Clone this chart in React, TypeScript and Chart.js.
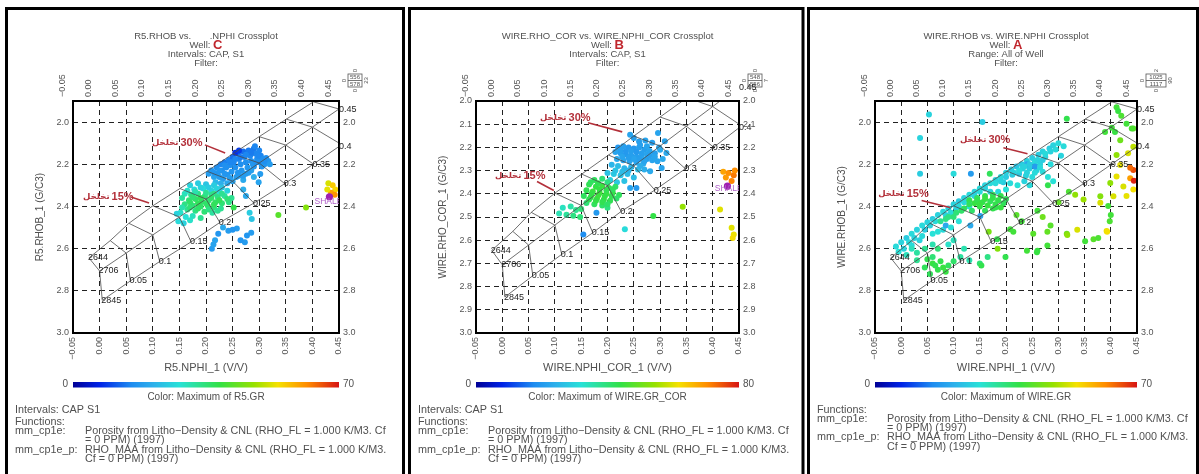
import React, { useEffect, useRef } from 'react';
import { Chart, registerables } from 'chart.js';

Chart.register(...registerables);
Chart.defaults.font.family = "'Liberation Sans', Arial, sans-serif";

type Pt = [number, number, number];

// axis ticks
const nphiTicks = [-0.05, 0, 0.05, 0.1, 0.15, 0.2, 0.25, 0.3, 0.35, 0.4, 0.45];
const nphiLabels = ['\u22120.05', '0.00', '0.05', '0.10', '0.15', '0.20', '0.25', '0.30', '0.35', '0.40', '0.45'];
const rhobTicksCoarse = [2.0, 2.2, 2.4, 2.6, 2.8, 3.0];
const rhobLabelsCoarse = ['2.0', '2.2', '2.4', '2.6', '2.8', '3.0'];
const rhobTicksFine = [2.0, 2.1, 2.2, 2.3, 2.4, 2.5, 2.6, 2.7, 2.8, 2.9, 3.0];
const rhobLabelsFine = ['2.0', '2.1', '2.2', '2.3', '2.4', '2.5', '2.6', '2.7', '2.8', '2.9', '3.0'];

// CP-1e chart overlay, one node per porosity step (0 .. 0.45)
const ssNphi = [-0.02, 0.02, 0.055, 0.1, 0.151, 0.202, 0.25, 0.3, 0.351, 0.402];
const ssRhob = [2.644, 2.562, 2.48, 2.397, 2.315, 2.233, 2.151, 2.069, 1.986, 1.904];
const lsNphi = [0, 0.05, 0.1, 0.15, 0.2, 0.25, 0.3, 0.35, 0.4, 0.45];
const lsRhob = [2.706, 2.621, 2.535, 2.45, 2.365, 2.28, 2.194, 2.109, 2.024, 1.938];
const dolNphi = [0.005, 0.058, 0.113, 0.172, 0.226, 0.29, 0.348, 0.402, 0.455, 0.51];
const dolRhob = [2.845, 2.753, 2.661, 2.568, 2.476, 2.384, 2.292, 2.199, 2.107, 2.015];

const porLabels = ['0.05', '0.1', '0.15', '0.2', '0.25', '0.3', '0.35', '0.4', '0.45'];
const porLabelNphi = [0.058, 0.113, 0.172, 0.226, 0.29, 0.348, 0.402, 0.452, 0.452];
const porLabelRhob = [2.753, 2.661, 2.568, 2.476, 2.384, 2.292, 2.199, 2.115, 1.94];
const matrixLabels = ['2644', '2706', '2845'];
const matrixNphi = [-0.02, 0, 0.005];
const matrixRhob = [2.644, 2.706, 2.845];

// well C  [nphi, rhob, GR]
const wellC: Pt[] = [
  [0.205, 2.245, 18], [0.21, 2.23, 17], [0.215, 2.26, 19], [0.22, 2.215, 16], [0.222, 2.245, 17], [0.228, 2.2, 15],
  [0.23, 2.23, 16], [0.232, 2.27, 18], [0.235, 2.19, 14], [0.238, 2.215, 16], [0.24, 2.25, 17], [0.243, 2.18, 15],
  [0.245, 2.205, 16], [0.248, 2.235, 17], [0.25, 2.165, 13], [0.252, 2.19, 15], [0.255, 2.215, 16], [0.257, 2.26, 18],
  [0.26, 2.15, 12], [0.262, 2.175, 15], [0.265, 2.2, 16], [0.267, 2.23, 17], [0.27, 2.14, 13], [0.272, 2.165, 15],
  [0.275, 2.19, 16], [0.278, 2.215, 17], [0.28, 2.135, 14], [0.283, 2.16, 15], [0.285, 2.185, 16], [0.288, 2.2, 17],
  [0.29, 2.125, 14], [0.293, 2.15, 15], [0.296, 2.175, 16], [0.3, 2.19, 16], [0.303, 2.16, 15], [0.307, 2.175, 16],
  [0.31, 2.2, 17], [0.313, 2.17, 16], [0.317, 2.185, 17], [0.292, 2.115, 15], [0.3, 2.135, 15], [0.24, 2.29, 20],
  [0.25, 2.28, 19], [0.262, 2.255, 18], [0.275, 2.245, 18], [0.285, 2.23, 19], [0.255, 2.145, 8], [0.262, 2.135, 9],
  [0.228, 2.29, 21], [0.218, 2.285, 22], [0.27, 2.275, 20], [0.299, 2.285, 19], [0.302, 2.246, 18], [0.29, 2.26, 21],
  [0.215, 2.24, 17], [0.225, 2.26, 18], [0.235, 2.245, 17], [0.245, 2.265, 18], [0.26, 2.24, 17], [0.27, 2.255, 18],
  [0.28, 2.24, 18], [0.29, 2.21, 17], [0.295, 2.19, 16], [0.305, 2.21, 17], [0.31, 2.185, 16], [0.285, 2.145, 14],
  [0.275, 2.155, 15], [0.265, 2.165, 14], [0.255, 2.175, 15], [0.245, 2.19, 15], [0.235, 2.205, 16], [0.225, 2.23, 17],
  [0.32, 2.2, 18], [0.298, 2.16, 15],
  [0.17, 2.3, 26], [0.185, 2.29, 25], [0.2, 2.295, 24], [0.215, 2.3, 25], [0.23, 2.31, 24], [0.178, 2.32, 27],
  [0.195, 2.315, 27], [0.21, 2.325, 26], [0.225, 2.33, 27], [0.24, 2.325, 26], [0.16, 2.34, 30], [0.172, 2.345, 33],
  [0.185, 2.34, 34], [0.198, 2.35, 35], [0.21, 2.345, 33], [0.222, 2.355, 34], [0.235, 2.35, 32], [0.248, 2.36, 33],
  [0.155, 2.36, 32], [0.168, 2.37, 35], [0.18, 2.365, 36], [0.192, 2.375, 36], [0.205, 2.37, 35], [0.218, 2.38, 36],
  [0.23, 2.385, 35], [0.243, 2.38, 34], [0.16, 2.39, 34], [0.175, 2.395, 35], [0.19, 2.4, 36], [0.203, 2.395, 36],
  [0.215, 2.405, 35], [0.228, 2.41, 33], [0.165, 2.415, 33], [0.18, 2.42, 34], [0.197, 2.425, 35], [0.212, 2.43, 32],
  [0.152, 2.43, 29], [0.162, 2.45, 28], [0.175, 2.445, 30], [0.19, 2.455, 33], [0.148, 2.47, 27], [0.158, 2.48, 26],
  [0.17, 2.465, 29], [0.252, 2.405, 38], [0.145, 2.435, 26],
  [0.19, 2.31, 26], [0.205, 2.31, 25], [0.22, 2.315, 26], [0.165, 2.325, 29], [0.18, 2.33, 31], [0.2, 2.335, 33],
  [0.215, 2.34, 34], [0.23, 2.34, 33], [0.175, 2.355, 35], [0.19, 2.36, 37], [0.21, 2.36, 36], [0.225, 2.37, 37],
  [0.24, 2.365, 35], [0.17, 2.38, 36], [0.185, 2.385, 37], [0.2, 2.385, 36], [0.215, 2.39, 37], [0.17, 2.405, 35],
  [0.185, 2.41, 36], [0.205, 2.415, 34], [0.222, 2.42, 33], [0.155, 2.405, 31],
  [0.242, 2.515, 18], [0.232, 2.5, 20], [0.258, 2.505, 18], [0.277, 2.538, 17], [0.285, 2.525, 18], [0.217, 2.56, 19],
  [0.211, 2.6, 18], [0.214, 2.58, 19], [0.223, 2.53, 17], [0.25, 2.51, 17], [0.273, 2.57, 18], [0.265, 2.56, 17],
  [0.282, 2.43, 25], [0.286, 2.46, 24], [0.275, 2.35, 20], [0.27, 2.32, 21],
  [0.336, 2.44, 42], [0.388, 2.405, 46],
  [0.43, 2.29, 52], [0.438, 2.3, 56], [0.443, 2.32, 55], [0.435, 2.335, 60], [0.442, 2.345, 61], [0.428, 2.32, 53],
];

// well B
const wellB: Pt[] = [
  [0.243, 2.146, 22], [0.296, 2.138, 22], [0.309, 2.174, 22], [0.312, 2.224, 23], [0.303, 2.289, 22], [0.281, 2.303, 23],
  [0.25, 2.16, 21], [0.26, 2.175, 21], [0.272, 2.17, 22], [0.285, 2.18, 21], [0.298, 2.2, 22], [0.22, 2.2, 20],
  [0.23, 2.195, 21], [0.24, 2.2, 20], [0.25, 2.205, 20], [0.26, 2.2, 21], [0.27, 2.21, 21], [0.28, 2.215, 22],
  [0.29, 2.225, 21], [0.215, 2.22, 22], [0.225, 2.225, 21], [0.235, 2.23, 20], [0.245, 2.235, 21], [0.255, 2.24, 21],
  [0.265, 2.24, 22], [0.275, 2.25, 21], [0.285, 2.255, 22], [0.218, 2.25, 23], [0.23, 2.255, 22], [0.242, 2.26, 22],
  [0.255, 2.265, 22], [0.268, 2.27, 23], [0.295, 2.26, 22], [0.305, 2.25, 23], [0.208, 2.275, 25], [0.22, 2.28, 26],
  [0.232, 2.29, 25], [0.245, 2.285, 25], [0.258, 2.295, 26], [0.27, 2.295, 24], [0.2, 2.31, 27], [0.212, 2.315, 28],
  [0.225, 2.32, 27], [0.238, 2.315, 26], [0.25, 2.33, 26], [0.205, 2.34, 29], [0.218, 2.35, 28], [0.232, 2.345, 27],
  [0.255, 2.375, 20], [0.243, 2.375, 22],
  [0.225, 2.21, 21], [0.235, 2.215, 20], [0.245, 2.215, 21], [0.255, 2.22, 20], [0.265, 2.225, 21], [0.275, 2.23, 22],
  [0.26, 2.25, 21], [0.27, 2.26, 22], [0.28, 2.235, 21], [0.25, 2.25, 22], [0.24, 2.245, 21], [0.228, 2.24, 22],
  [0.29, 2.24, 22], [0.3, 2.21, 23], [0.262, 2.19, 21], [0.275, 2.195, 22], [0.262, 2.28, 24], [0.215, 2.3, 27],
  [0.228, 2.305, 26], [0.24, 2.3, 25],
  [0.175, 2.34, 42], [0.19, 2.335, 40], [0.2, 2.35, 39], [0.165, 2.36, 43], [0.178, 2.37, 44], [0.19, 2.365, 45],
  [0.203, 2.375, 43], [0.215, 2.37, 41], [0.16, 2.385, 43], [0.172, 2.39, 45], [0.185, 2.395, 46], [0.198, 2.4, 45],
  [0.21, 2.395, 44], [0.222, 2.405, 42], [0.155, 2.41, 42], [0.168, 2.415, 44], [0.18, 2.42, 45], [0.193, 2.425, 44],
  [0.205, 2.43, 43], [0.217, 2.42, 41], [0.16, 2.44, 40], [0.175, 2.445, 42], [0.19, 2.45, 41], [0.13, 2.455, 36],
  [0.14, 2.47, 38], [0.15, 2.465, 40], [0.115, 2.46, 34], [0.122, 2.49, 37], [0.135, 2.495, 39], [0.148, 2.5, 40],
  [0.108, 2.485, 35], [0.2, 2.46, 39],
  [0.17, 2.4, 44], [0.183, 2.405, 45], [0.195, 2.41, 44], [0.208, 2.41, 43], [0.165, 2.425, 43], [0.178, 2.43, 44],
  [0.19, 2.435, 43], [0.2, 2.445, 41], [0.185, 2.38, 44], [0.198, 2.385, 43], [0.21, 2.38, 42], [0.168, 2.35, 42],
  [0.182, 2.355, 43],
  [0.179, 2.482, 20], [0.154, 2.575, 18], [0.233, 2.553, 31], [0.287, 2.496, 44], [0.343, 2.456, 54], [0.414, 2.468, 60],
  [0.42, 2.305, 68], [0.43, 2.31, 70], [0.44, 2.32, 72], [0.425, 2.33, 69], [0.436, 2.345, 71], [0.442, 2.3, 70],
  [0.436, 2.546, 60], [0.44, 2.575, 61], [0.438, 2.59, 62],
];

// well A
const wellA: Pt[] = [
  [0.053, 1.964, 26], [0.036, 2.075, 26], [0.155, 2.0, 25], [0.036, 2.245, 25], [0.1, 2.245, 27], [0.133, 2.245, 18],
  [0.169, 2.245, 37], [0.316, 1.984, 38],
  [0.3, 2.1, 27], [0.29, 2.11, 26], [0.283, 2.125, 25], [0.295, 2.13, 27], [0.27, 2.14, 26], [0.262, 2.155, 25],
  [0.275, 2.165, 26], [0.25, 2.17, 25], [0.24, 2.185, 26], [0.255, 2.19, 27], [0.265, 2.2, 26], [0.23, 2.2, 25],
  [0.22, 2.21, 24], [0.232, 2.22, 26], [0.245, 2.22, 25], [0.258, 2.23, 26], [0.27, 2.235, 27], [0.21, 2.225, 25],
  [0.2, 2.24, 26], [0.212, 2.25, 25], [0.225, 2.245, 24], [0.238, 2.255, 26], [0.25, 2.26, 27], [0.28, 2.26, 28],
  [0.29, 2.28, 28], [0.19, 2.26, 27], [0.18, 2.275, 26], [0.195, 2.285, 25], [0.208, 2.29, 27], [0.222, 2.3, 28],
  [0.17, 2.29, 27], [0.16, 2.3, 26], [0.15, 2.315, 27], [0.14, 2.33, 26], [0.13, 2.345, 27], [0.12, 2.36, 26],
  [0.11, 2.375, 25], [0.1, 2.39, 26], [0.11, 2.4, 27], [0.09, 2.41, 26], [0.08, 2.425, 27], [0.07, 2.44, 26],
  [0.06, 2.46, 25], [0.05, 2.475, 26], [0.04, 2.49, 27], [0.03, 2.51, 26], [0.02, 2.53, 27], [0.01, 2.55, 25],
  [0.0, 2.57, 26], [-0.01, 2.59, 27], [0.005, 2.6, 26], [0.02, 2.585, 27], [0.035, 2.56, 26], [0.06, 2.53, 28],
  [0.08, 2.51, 27], [0.24, 2.2, 20], [0.255, 2.21, 18], [0.132, 2.49, 20], [0.151, 2.445, 19], [0.085, 2.49, 20],
  [0.31, 2.115, 27], [0.305, 2.16, 26], [0.285, 2.2, 27], [0.27, 2.18, 25], [0.235, 2.28, 26], [0.245, 2.3, 27],
  [0.2, 2.32, 28], [0.185, 2.33, 27], [0.17, 2.33, 26], [0.12, 2.38, 27], [0.13, 2.4, 28],
  [0.285, 2.14, 26], [0.275, 2.15, 27], [0.26, 2.18, 26], [0.245, 2.2, 25], [0.235, 2.21, 26], [0.225, 2.23, 27],
  [0.215, 2.24, 26], [0.2, 2.26, 25], [0.19, 2.28, 26], [0.18, 2.29, 27], [0.16, 2.315, 26], [0.15, 2.33, 27],
  [0.14, 2.35, 26], [0.125, 2.37, 27], [0.105, 2.41, 26], [0.095, 2.43, 27], [0.085, 2.44, 26], [0.065, 2.47, 27],
  [0.055, 2.49, 26], [0.045, 2.51, 25], [0.025, 2.55, 26], [0.015, 2.57, 27], [0.04, 2.54, 27], [0.07, 2.52, 28],
  [0.095, 2.5, 28], [0.11, 2.47, 28], [0.255, 2.24, 27], [0.24, 2.24, 26], [0.265, 2.215, 27],
  [0.13, 2.37, 38], [0.145, 2.36, 37], [0.16, 2.35, 38], [0.175, 2.345, 37], [0.19, 2.35, 38], [0.14, 2.385, 39],
  [0.155, 2.38, 38], [0.17, 2.375, 37], [0.185, 2.37, 38], [0.2, 2.365, 37], [0.15, 2.4, 38], [0.165, 2.395, 39],
  [0.18, 2.39, 38], [0.195, 2.385, 37], [0.16, 2.42, 37], [0.175, 2.41, 38], [0.19, 2.405, 39], [0.12, 2.41, 37],
  [0.135, 2.42, 36], [0.105, 2.43, 35], [0.09, 2.45, 34], [0.075, 2.47, 33],
  [0.145, 2.37, 38], [0.16, 2.365, 39], [0.175, 2.36, 38], [0.15, 2.39, 39], [0.18, 2.405, 38], [0.13, 2.39, 37],
  [0.115, 2.42, 36], [0.1, 2.45, 35], [0.085, 2.46, 34],
  [0.02, 2.6, 30], [0.03, 2.62, 32], [0.045, 2.6, 33], [0.06, 2.58, 31], [0.07, 2.6, 35], [0.05, 2.65, 38],
  [0.06, 2.67, 39], [0.075, 2.66, 38], [0.09, 2.68, 37], [0.07, 2.7, 38], [0.085, 2.71, 39], [0.055, 2.72, 37],
  [0.1, 2.66, 36], [0.113, 2.64, 32], [0.13, 2.655, 31], [0.15, 2.67, 35], [0.165, 2.64, 34], [0.153, 2.68, 38],
  [0.01, 2.63, 30], [-0.005, 2.615, 28], [0.03, 2.655, 33], [0.12, 2.6, 31], [0.1, 2.56, 30], [0.09, 2.58, 29],
  [0.065, 2.68, 38], [0.08, 2.69, 39], [0.045, 2.69, 37], [0.06, 2.64, 35],
  [0.183, 2.555, 38], [0.208, 2.508, 40], [0.24, 2.61, 40], [0.259, 2.617, 39], [0.285, 2.49, 42], [0.316, 2.53, 44],
  [0.332, 2.344, 47], [0.348, 2.367, 48], [0.38, 2.383, 52], [0.392, 2.516, 53], [0.367, 2.555, 42], [0.167, 2.52, 45],
  [0.214, 2.52, 40], [0.252, 2.53, 42], [0.279, 2.52, 43], [0.317, 2.535, 47], [0.336, 2.51, 52], [0.393, 2.52, 54],
  [0.351, 2.565, 40], [0.376, 2.55, 41], [0.26, 2.61, 39], [0.279, 2.585, 40], [0.199, 2.64, 38], [0.184, 2.6, 46],
  [0.22, 2.44, 42], [0.26, 2.42, 40], [0.3, 2.38, 43], [0.32, 2.33, 41], [0.28, 2.3, 38], [0.23, 2.47, 40],
  [0.27, 2.45, 44], [0.4, 2.44, 40], [0.398, 2.47, 41],
  [0.411, 1.93, 40], [0.42, 1.97, 41], [0.43, 2.008, 40], [0.443, 2.03, 42], [0.408, 2.047, 39], [0.389, 2.047, 40],
  [0.418, 2.086, 44], [0.443, 2.117, 50], [0.411, 2.156, 47], [0.433, 2.148, 52], [0.443, 2.227, 66], [0.437, 2.266, 60],
  [0.418, 2.203, 53], [0.424, 2.305, 52], [0.443, 2.32, 54], [0.399, 2.289, 47], [0.405, 2.352, 52], [0.395, 2.398, 40],
  [0.38, 2.352, 46], [0.411, 2.258, 53], [0.43, 2.35, 53], [0.444, 2.278, 69], [0.437, 2.216, 64], [0.402, 2.027, 40],
  [0.414, 1.947, 39], [0.44, 2.03, 41],
];

// colour map of the GR colour bar
const grStops: [number, number[]][] = [
  [0.0, [0, 0, 150]], [0.1, [0, 35, 230]], [0.22, [30, 140, 240]], [0.3, [45, 175, 235]],
  [0.4, [40, 225, 215]], [0.55, [50, 225, 70]], [0.68, [150, 225, 0]], [0.77, [245, 225, 0]],
  [0.88, [255, 140, 0]], [1.0, [215, 20, 20]],
];

function grColor(v: number, max: number) {
  const t = Math.max(0, Math.min(1, v / max));
  for (let i = 1; i < grStops.length; i++) {
    const [t1, c1] = grStops[i];
    const [t0, c0] = grStops[i - 1];
    if (t <= t1) {
      const f = (t - t0) / (t1 - t0);
      const c = c0.map((a, k) => Math.round(a + (c1[k] - a) * f));
      return `rgb(${c[0]},${c[1]},${c[2]})`;
    }
  }
  return 'rgb(215,20,20)';
}

const footerP = 'Porosity from Litho\u2212Density & CNL (RHO_FL = 1.000 K/M3. Cf';
const footerM = 'RHO_MAA from Litho\u2212Density & CNL (RHO_FL = 1.000 K/M3.';

interface PanelSpec {
  pageLeft: number; width: number; plotRight: number; frameRight: number;
  yMin: number; yTicks: number[]; yLabels: string[];
  title: string; well: string; sub: string;
  xTitle: string; yTitle: string; grMax: number; colorTitle: string;
  points: Pt[]; shale: number[] | null;
  box: string[];
  footer: [number, string, string][];
  note30: number[]; note15: number[];
}

const panels: PanelSpec[] = [
  {
    pageLeft: 3, width: 402, plotRight: 336, frameRight: 400.5,
    yMin: 1.9, yTicks: rhobTicksCoarse, yLabels: rhobLabelsCoarse,
    title: 'R5.RHOB vs.       .NPHI Crossplot', well: 'C', sub: 'Intervals: CAP, S1',
    xTitle: 'R5.NPHI_1 (V/V)', yTitle: 'R5.RHOB_1 (G/C3)', grMax: 70, colorTitle: 'Color: Maximum of R5.GR',
    points: wellC, shale: [0.432, 2.354],
    box: ['0', '556', '578', '0', '23', '0'],
    footer: [[410, 'Intervals: CAP S1', ''], [422, 'Functions:', ''], [431, 'mm_cp1e:', footerP],
      [440, '', '= 0 PPM) (1997)'], [450, 'mm_cp1e_p:', footerM], [459, '', 'Cf = 0 PPM) (1997)']],
    note30: [0.0985, 2.099, 0.198, 2.108, 0.236, 2.146],
    note15: [-0.031, 2.355, 0.059, 2.355, 0.093, 2.384],
  },
  {
    pageLeft: 406, width: 400, plotRight: 333, frameRight: 397,
    yMin: 2.0, yTicks: rhobTicksFine, yLabels: rhobLabelsFine,
    title: 'WIRE.RHO_COR vs. WIRE.NPHI_COR Crossplot', well: 'B', sub: 'Intervals: CAP, S1',
    xTitle: 'WIRE.NPHI_COR_1 (V/V)', yTitle: 'WIRE.RHO_COR_1 (G/C3)', grMax: 80, colorTitle: 'Color: Maximum of WIRE.GR_COR',
    points: wellB, shale: [0.428, 2.367],
    box: ['0', '548', '556', '0', '7', '0'],
    footer: [[410, 'Intervals: CAP S1', ''], [422, 'Functions:', ''], [431, 'mm_cp1e:', footerP],
      [440, '', '= 0 PPM) (1997)'], [450, 'mm_cp1e_p:', footerM], [459, '', 'Cf = 0 PPM) (1997)']],
    note30: [0.0717, 2.073, 0.163, 2.094, 0.228, 2.133],
    note15: [-0.014, 2.322, 0.066, 2.347, 0.098, 2.386],
  },
  {
    pageLeft: 805, width: 394, plotRight: 332, frameRight: 392.5,
    yMin: 1.9, yTicks: rhobTicksCoarse, yLabels: rhobLabelsCoarse,
    title: 'WIRE.RHOB vs. WIRE.NPHI Crossplot', well: 'A', sub: 'Range: All of Well',
    xTitle: 'WIRE.NPHI_1 (V/V)', yTitle: 'WIRE.RHOB_1 (G/C3)', grMax: 70, colorTitle: 'Color: Maximum of WIRE.GR',
    points: wellA, shale: null,
    box: ['2', '1025', '1117', '0', '90', '0'],
    footer: [[410, 'Functions:', ''], [419, 'mm_cp1e:', footerP], [428, '', '= 0 PPM) (1997)'],
      [437, 'mm_cp1e_p:', footerM], [447, '', 'Cf = 0 PPM) (1997)']],
    note30: [0.112, 2.084, 0.195, 2.122, 0.241, 2.15],
    note15: [-0.044, 2.339, 0.039, 2.372, 0.093, 2.405],
  },
];

const TXT = '#505050';
const RED = '#b3303a';
const FONT = "'Liberation Sans', Arial, sans-serif";

function makeDecor(spec: PanelSpec) {
  return {
    id: 'decor',
    afterDraw(chart: Chart) {
      const ctx = chart.ctx;
      const { left, right, top, bottom } = chart.chartArea;
      const px = (v: number) => chart.scales.x.getPixelForValue(v);
      const py = (v: number) => chart.scales.y.getPixelForValue(v);
      const cx = (left + right) / 2;
      const text = (s: string, x: number, y: number, font: string, color = TXT, align: CanvasTextAlign = 'left') => {
        ctx.font = font;
        ctx.fillStyle = color;
        ctx.textAlign = align;
        ctx.textBaseline = 'middle';
        ctx.fillText(s, x, y);
      };
      const vtext = (s: string, x: number, y: number, font: string) => {
        ctx.save();
        ctx.translate(x, y);
        ctx.rotate(-Math.PI / 2);
        text(s, 0, 0, font, TXT, 'center');
        ctx.restore();
      };
      ctx.save();

      // panel frame
      ctx.strokeStyle = '#000';
      ctx.lineWidth = 3;
      ctx.strokeRect(3.5, 8.5, spec.frameRight - 3.5, 500);
      // plot frame
      ctx.lineWidth = 2;
      ctx.strokeRect(left, top, right - left, bottom - top);

      // header
      const f95 = `9.5px ${FONT}`;
      text(spec.title, cx, 36, f95, TXT, 'center');
      ctx.font = f95;
      const wl = ctx.measureText('Well: ').width;
      ctx.font = `bold 13px ${FONT}`;
      const wr = ctx.measureText(spec.well).width;
      const ws = cx - (wl + wr) / 2;
      text('Well: ', ws, 45.5, f95);
      text(spec.well, ws + wl, 45, `bold 13px ${FONT}`, '#c0262d');
      text(spec.sub, cx, 54.5, f95, TXT, 'center');
      text('Filter:', cx, 63.5, f95, TXT, 'center');

      // count box
      const bw = spec.box[1].length > 3 ? 20 : 14;
      const bx = right + 9;
      ctx.lineWidth = 0.8;
      ctx.strokeStyle = '#555';
      ctx.strokeRect(bx, 74, bw, 13);
      ctx.beginPath();
      ctx.moveTo(bx, 80.5);
      ctx.lineTo(bx + bw, 80.5);
      ctx.stroke();
      const f6 = `6px ${FONT}`;
      text(spec.box[1], bx + bw / 2, 77.5, f6, TXT, 'center');
      text(spec.box[2], bx + bw / 2, 84, f6, TXT, 'center');
      vtext(spec.box[0], bx + bw / 2, 70.5, f6);
      vtext(spec.box[5], bx + bw / 2, 90.5, f6);
      vtext(spec.box[3], bx - 4, 80.5, f6);
      vtext(spec.box[4], bx + bw + 4, 80.5, f6);

      // overlay labels
      const f9 = `9px ${FONT}`;
      porLabels.forEach((s, i) => {
        const x = Math.min(px(porLabelNphi[i]), right + 1);
        text(s, x - 1, py(porLabelRhob[i]), f9, '#222');
      });
      matrixLabels.forEach((s, i) => text(s, px(matrixNphi[i]) - 1, py(matrixRhob[i]), f9, '#222'));

      // shale label (clipped to the plot)
      if (spec.shale) {
        ctx.save();
        ctx.beginPath();
        ctx.rect(left, top, right - left, bottom - top);
        ctx.clip();
        text('SHALE', px(0.404), py(2.377), `8.5px ${FONT}`, '#b060c8');
        ctx.restore();
      }

      // porosity notes
      const note = (n: number[], pct: string) => {
        const fa = 'bold 8.5px "DejaVu Sans"';
        const fb = `bold 11px ${FONT}`;
        ctx.font = fa;
        const aw = ctx.measureText('\u062A\u062E\u0644\u062E\u0644').width;
        const x0 = px(n[0]);
        const y0 = py(n[1]);
        ctx.save();
        ctx.direction = 'rtl';
        text('\u062A\u062E\u0644\u062E\u0644', x0 + aw, y0, fa, RED, 'right');
        ctx.restore();
        text(pct, x0 + aw + 2, y0, fb, RED);
        ctx.strokeStyle = RED;
        ctx.lineWidth = 1.6;
        ctx.beginPath();
        ctx.moveTo(px(n[2]), py(n[3]));
        ctx.lineTo(px(n[4]), py(n[5]));
        ctx.stroke();
      };
      note(spec.note30, '30%');
      note(spec.note15, '15%');

      // axis titles
      const f11 = `11px ${FONT}`;
      const f10 = `10px ${FONT}`;
      vtext(spec.yTitle, left - 33, (top + bottom) / 2, f10);
      text(spec.xTitle, cx, 368, f11, TXT, 'center');

      // colour bar
      const g = ctx.createLinearGradient(left, 0, right, 0);
      grStops.forEach(([t, c]) => g.addColorStop(t, `rgb(${c[0]},${c[1]},${c[2]})`));
      ctx.fillStyle = g;
      ctx.fillRect(left, 382, right - left, 5.5);
      text('0', left - 5, 384.5, f10, TXT, 'right');
      text(String(spec.grMax), right + 4, 384.5, f10);
      text(spec.colorTitle, cx, 397, f10, TXT, 'center');

      // footer
      const ff = `10.8px ${FONT}`;
      spec.footer.forEach(([y, a, b]) => {
        if (a) text(a, 12, y, ff);
        if (b) text(b, 82, y, ff);
      });
      ctx.restore();
    },
  };
}

function line(xs: number[], ys: number[]) {
  return {
    data: xs.map((x, i) => ({ x, y: ys[i] })),
    showLine: true,
    borderColor: '#4a4a4a',
    borderWidth: 0.8,
    pointRadius: 0,
    order: 0,
  };
}

function Panel({ spec }: { spec: PanelSpec }) {
  const ref = useRef<HTMLCanvasElement>(null);

  useEffect(() => {
    if (!ref.current) return;
    const overlay = [line(ssNphi, ssRhob), line(lsNphi, lsRhob), line(dolNphi, dolRhob)];
    lsNphi.forEach((_, i) => {
      overlay.push(line([ssNphi[i], lsNphi[i], dolNphi[i]], [ssRhob[i], lsRhob[i], dolRhob[i]]));
    });
    const datasets: any[] = [
      ...overlay,
      {
        data: spec.points.map(p => ({ x: p[0], y: p[1] })),
        pointBackgroundColor: spec.points.map(p => grColor(p[2], spec.grMax)),
        pointBorderWidth: 0,
        pointRadius: 3,
        order: 2,
      },
    ];
    if (spec.shale) {
      datasets.push({
        data: [{ x: spec.shale[0], y: spec.shale[1] }],
        pointBackgroundColor: '#a020b0',
        pointBorderWidth: 0,
        pointRadius: 3.6,
        order: 1,
      });
    }
    const xLabel = (v: any) => nphiLabels[nphiTicks.findIndex(t => Math.abs(t - v) < 1e-6)] ?? '';
    const yLabel = (v: any) => spec.yLabels[spec.yTicks.findIndex(t => Math.abs(t - v) < 1e-6)] ?? '';
    const grid = { color: '#222', lineWidth: 1, drawTicks: false, tickLength: 0 };
    const border = { display: false, dash: [5, 4] };
    const tickFont = { size: 9, family: FONT };
    const xScale = (pos: 'top' | 'bottom', h: number, showGrid: boolean) => ({
      type: 'linear' as const,
      position: pos,
      min: -0.05,
      max: 0.45,
      afterBuildTicks: (s: any) => { s.ticks = nphiTicks.map(value => ({ value })); },
      afterFit: (s: any) => { s.height = h; },
      ticks: { callback: xLabel, minRotation: 90, maxRotation: 90, autoSkip: false, padding: 4, color: '#555', font: tickFont },
      grid: { ...grid, display: showGrid },
      border,
    });
    const yScale = (pos: 'left' | 'right', w: number, showGrid: boolean) => ({
      type: 'linear' as const,
      position: pos,
      reverse: true,
      min: spec.yMin,
      max: 3.0,
      afterBuildTicks: (s: any) => { s.ticks = spec.yTicks.map(value => ({ value })); },
      afterFit: (s: any) => { s.width = w; },
      ticks: { callback: yLabel, autoSkip: false, padding: 4, color: '#555', font: tickFont },
      grid: { ...grid, display: showGrid },
      border,
    });

    const chart = new Chart(ref.current, {
      type: 'scatter',
      data: { datasets },
      options: {
        responsive: false,
        animation: false,
        events: [],
        layout: { padding: { left: 36, top: 60, right: spec.width - spec.plotRight - 30, bottom: 109 } },
        plugins: { legend: { display: false }, tooltip: { enabled: false } },
        scales: {
          x: xScale('bottom', 32, true),
          x2: xScale('top', 41, false),
          y: yScale('left', 34, true),
          y2: yScale('right', 30, false),
        } as any,
      },
      plugins: [makeDecor(spec)],
    });
    return () => chart.destroy();
  }, [spec]);

  return (
    <canvas
      ref={ref}
      width={spec.width}
      height={474}
      style={{ position: 'absolute', left: spec.pageLeft, top: 0 }}
    />
  );
}

export default function App() {
  return (
    <div style={{ position: 'fixed', left: 0, top: 0, width: 1199, height: 474, background: '#fff', overflow: 'hidden' }}>
      {panels.map((p, i) => <Panel key={i} spec={p} />)}
    </div>
  );
}
